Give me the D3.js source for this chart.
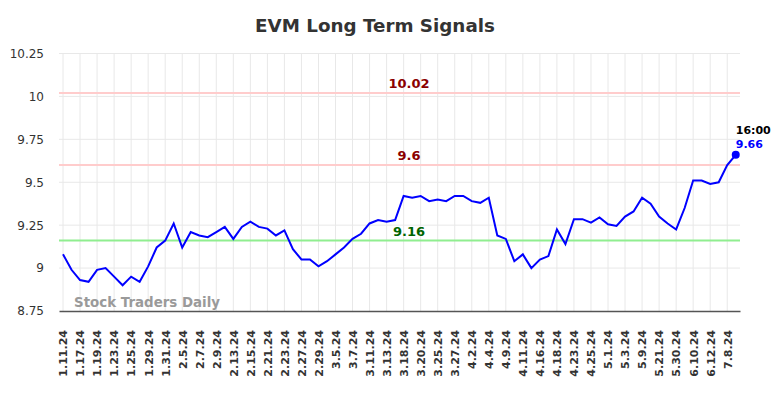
<!DOCTYPE html>
<html>
<head>
<meta charset="utf-8">
<script src="https://cdn.jsdelivr.net/npm/d3@7"></script>
<style>
    body { margin: 0; background: #fff; }
    svg { display: block; font-family: "DejaVu Sans", sans-serif; }
</style>
</head>
<body>
<svg width="784" height="398"></svg>
<script>
// chart values
const tickLabels = ["1.11.24","1.17.24","1.19.24","1.23.24","1.25.24","1.29.24","1.31.24","2.5.24","2.7.24","2.9.24",
    "2.13.24","2.15.24","2.21.24","2.23.24","2.27.24","2.29.24","3.5.24","3.7.24","3.11.24","3.13.24",
    "3.18.24","3.20.24","3.25.24","3.27.24","4.2.24","4.4.24","4.9.24","4.11.24","4.16.24","4.18.24",
    "4.23.24","4.25.24","5.1.24","5.3.24","5.9.24","5.21.24","5.30.24","6.10.24","6.12.24","7.8.24"];

const prices = [9.08, 8.99, 8.93, 8.92, 8.99, 9.00, 8.95, 8.90, 8.95, 8.92,
    9.01, 9.12, 9.16, 9.26, 9.12, 9.21, 9.19, 9.18, 9.21, 9.24,
    9.17, 9.24, 9.27, 9.24, 9.23, 9.19, 9.22, 9.11, 9.05, 9.05,
    9.01, 9.04, 9.08, 9.12, 9.17, 9.20, 9.26, 9.28, 9.27, 9.28,
    9.42, 9.41, 9.42, 9.39, 9.40, 9.39, 9.42, 9.42, 9.39, 9.38,
    9.41, 9.19, 9.17, 9.04, 9.08, 9.00, 9.05, 9.07, 9.225, 9.14,
    9.285, 9.285, 9.265, 9.295, 9.255, 9.245, 9.30, 9.33, 9.41, 9.375,
    9.30, 9.26, 9.225, 9.35, 9.51, 9.51, 9.49, 9.50, 9.60, 9.66];

const yTicks = [8.75, 9, 9.25, 9.5, 9.75, 10, 10.25];
const resistance = [10.02, 9.6];
const support = [9.16];
const lastTime = "16:00";

const svg = d3.select("svg");
const plotLeft = 59, plotRight = 740, plotTop = 53.5, plotBottom = 311;

// one step per data point, ticks on every second point
const x = d3.scaleLinear().domain([-0.47, prices.length - 0.5]).range([plotLeft, plotRight]);
const y = d3.scaleLinear().domain([8.75, 10.25]).range([plotBottom, plotTop]);

// grid
const grid = svg.append("g").attr("stroke", "#e8e8e8").attr("stroke-width", 1);
grid.selectAll("line.h").data(yTicks.slice(1)).join("line").attr("class", "h")
    .attr("x1", plotLeft).attr("x2", plotRight)
    .attr("y1", d => y(d)).attr("y2", d => y(d));
grid.selectAll("line.v").data(tickLabels).join("line").attr("class", "v")
    .attr("x1", (d, i) => x(i * 2)).attr("x2", (d, i) => x(i * 2))
    .attr("y1", plotTop).attr("y2", plotBottom);

// y axis labels
const yAxis = svg.append("g")
    .attr("transform", `translate(${plotLeft},0)`)
    .call(d3.axisLeft(y).tickValues(yTicks).tickSize(0).tickPadding(15).tickFormat(d => d3.format("")(d)));
yAxis.select(".domain").remove();
yAxis.selectAll("text").attr("fill", "#333").style("font-size", "12px").style("font-family", "DejaVu Sans");

// x axis labels
const xAxis = svg.append("g")
    .attr("transform", `translate(0,${plotBottom})`)
    .call(d3.axisBottom(x).tickValues(d3.range(0, tickLabels.length * 2, 2)).tickSize(0)
        .tickFormat((d) => tickLabels[d / 2]));
xAxis.select(".domain").attr("stroke", "#555").attr("stroke-width", 1.5);
xAxis.selectAll("text")
    .attr("fill", "#333")
    .style("font-size", "11px")
    .style("font-weight", "bold")
    .style("font-family", "DejaVu Sans")
    .attr("transform", "rotate(-90)")
    .attr("text-anchor", "end")
    .attr("dy", "0.35em")
    .attr("x", -19)
    .attr("y", 0);

// level lines
const midX = 409;
resistance.forEach(v => {
    svg.append("line").attr("x1", plotLeft).attr("x2", plotRight)
        .attr("y1", y(v)).attr("y2", y(v))
        .attr("stroke", "#ffcccc").attr("stroke-width", 2);
    svg.append("text").attr("x", midX).attr("y", y(v) - 5)
        .attr("text-anchor", "middle").attr("fill", "#8b0000")
        .style("font-size", "13px").style("font-weight", "bold").text(v);
});
support.forEach(v => {
    svg.append("line").attr("x1", plotLeft).attr("x2", plotRight)
        .attr("y1", y(v)).attr("y2", y(v))
        .attr("stroke", "#90ee90").attr("stroke-width", 2);
    svg.append("text").attr("x", midX).attr("y", y(v) - 5)
        .attr("text-anchor", "middle").attr("fill", "#006400")
        .style("font-size", "13px").style("font-weight", "bold").text(v);
});

// price line
svg.append("path")
    .datum(prices)
    .attr("fill", "none")
    .attr("stroke", "#0000ff")
    .attr("stroke-width", 2)
    .attr("d", d3.line().x((d, i) => x(i)).y(d => y(d)));

const lastI = prices.length - 1;
svg.append("circle").attr("cx", x(lastI)).attr("cy", y(prices[lastI])).attr("r", 4).attr("fill", "#0000ff");
svg.append("text").attr("x", x(lastI)).attr("y", y(prices[lastI]) - 21)
    .attr("fill", "#000").style("font-size", "11px").style("font-weight", "bold").text(lastTime);
svg.append("text").attr("x", x(lastI)).attr("y", y(prices[lastI]) - 7)
    .attr("fill", "#0000ff").style("font-size", "11px").style("font-weight", "bold").text(prices[lastI]);

// watermark
svg.append("text").attr("x", 74).attr("y", 307)
    .attr("fill", "#9a9a9a").style("font-size", "13.4px").style("font-weight", "bold").text("Stock Traders Daily");

// title
svg.append("text").attr("x", 375).attr("y", 32).attr("text-anchor", "middle")
    .attr("fill", "#333").style("font-size", "18.3px").style("font-weight", "bold").text("EVM Long Term Signals");
</script>
</body>
</html>
